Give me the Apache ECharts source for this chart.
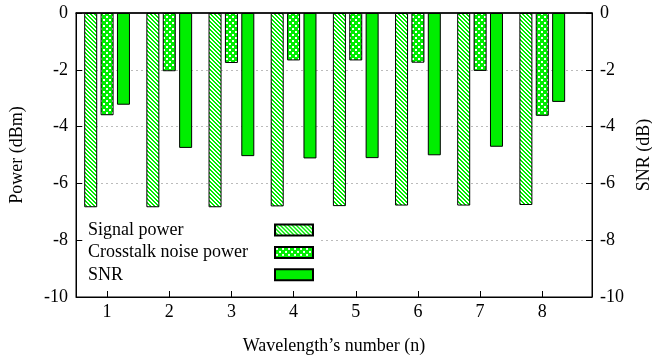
<!DOCTYPE html>
<html><head><meta charset="utf-8">
<script src="https://cdn.jsdelivr.net/npm/echarts@6/dist/echarts.min.js"></script>
<style>html,body{margin:0;padding:0;background:#fff}#c{width:652px;height:360px}</style>
</head><body><div id="c"></div>
<script>
const wavelengths = [1, 2, 3, 4, 5, 6, 7, 8];
const signalPower = [-6.84, -6.84, -6.84, -6.81, -6.80, -6.78, -6.78, -6.76];
const crosstalkPower = [-3.60, -2.05, -1.76, -1.67, -1.67, -1.75, -2.04, -3.62];
const snr = [-3.23, -4.75, -5.04, -5.12, -5.11, -5.01, -4.71, -3.13];
const seriesNames = ['Signal power', 'Crosstalk noise power', 'SNR'];

const GREEN = '#00ee00';
function hatchPattern() {
  const c = document.createElement('canvas'); c.width = 4; c.height = 4;
  const g = c.getContext('2d');
  g.fillStyle = '#fff'; g.fillRect(0, 0, 4, 4);
  g.fillStyle = GREEN;
  for (let y = 0; y < 4; y++) for (let x = 0; x < 4; x++) {
    const d = ((x - y) % 4 + 4) % 4;
    if (d === 0 || d === 1) g.fillRect(x, y, 1, 1);
  }
  return c;
}
function crossPattern() {
  const c = document.createElement('canvas'); c.width = 6; c.height = 6;
  const g = c.getContext('2d');
  g.fillStyle = GREEN; g.fillRect(0, 0, 6, 6);
  g.fillStyle = '#fff';
  g.fillRect(1, 1, 2, 2); g.fillRect(4, 4, 2, 2);
  return c;
}
const fills = [
  { image: hatchPattern(), repeat: 'repeat' },
  { image: crossPattern(), repeat: 'repeat' },
  GREEN
];
const values = [signalPower, crosstalkPower, snr];

const font = 'Liberation Serif';
const chart = echarts.init(document.getElementById('c'), null, { renderer: 'canvas' });

const yAxisBase = {
  type: 'value', min: -10, max: 0, interval: 2,
  nameLocation: 'middle',
  nameTextStyle: { fontFamily: font, fontSize: 18, color: '#000' },
  axisLine: { show: true, lineStyle: { color: '#000', width: 1 } },
  axisTick: { show: true, inside: true, length: 6, lineStyle: { color: '#000' } },
  axisLabel: { fontFamily: font, fontSize: 18, color: '#000', margin: 8 },
};

chart.setOption({
  animation: false,
  backgroundColor: '#fff',
  grid: { left: 76, right: 60, top: 13, bottom: 63, outerBoundsMode: 'none', containLabel: false,
          show: true, borderColor: '#000', borderWidth: 1, backgroundColor: 'transparent' },
  legend: {
    orient: 'vertical', left: 83, top: 217, align: 'right',
    padding: [4, 7, 4, 5], backgroundColor: '#fff',
    icon: 'rect',
    itemWidth: 38, itemHeight: 11, itemGap: 4.4,
    data: seriesNames,
    formatter: '{a|{name}}',
    textStyle: {
      fontFamily: font, fontSize: 18, color: '#000',
      rich: { a: { width: 182, align: 'left', fontFamily: font, fontSize: 18, lineHeight: 18, color: '#000' } }
    }
  },
  xAxis: [{
    type: 'value', min: 0.5, max: 8.8, position: 'bottom',
    name: 'Wavelength\u2019s number (n)', nameLocation: 'middle', nameGap: 40,
    nameTextStyle: { fontFamily: font, fontSize: 18, color: '#000' },
    axisLine: { show: true, onZero: false, lineStyle: { color: '#000' } },
    axisTick: { show: true, inside: true, length: 6, customValues: wavelengths, lineStyle: { color: '#000' } },
    axisLabel: { fontFamily: font, fontSize: 18, color: '#000', margin: 6, customValues: wavelengths },
    splitLine: { show: false }
  }, {
    type: 'value', min: 0.5, max: 8.8, position: 'top',
    axisLine: { show: true, onZero: false, lineStyle: { color: '#000', width: 1.5 } },
    axisTick: { show: false }, axisLabel: { show: false }, splitLine: { show: false }
  }],
  yAxis: [
    Object.assign({}, yAxisBase, {
      position: 'left', name: 'Power (dBm)', nameGap: 50,
      splitLine: { show: true, showMinLine: false, showMaxLine: false, lineStyle: { color: '#bbb', type: [2, 3], width: 1 } }
    }),
    Object.assign({}, yAxisBase, {
      position: 'right', name: 'SNR (dB)', nameGap: 38,
      splitLine: { show: false }
    })
  ],
  series: seriesNames.map((name, i) => ({
    name, type: 'bar', xAxisIndex: 0, yAxisIndex: 0,
    barWidth: 13, barGap: '26%',
    itemStyle: { color: fills[i], borderColor: '#000', borderWidth: 1 },
    data: wavelengths.map((w, k) => [w, values[i][k]])
  }))
});
</script></body></html>
